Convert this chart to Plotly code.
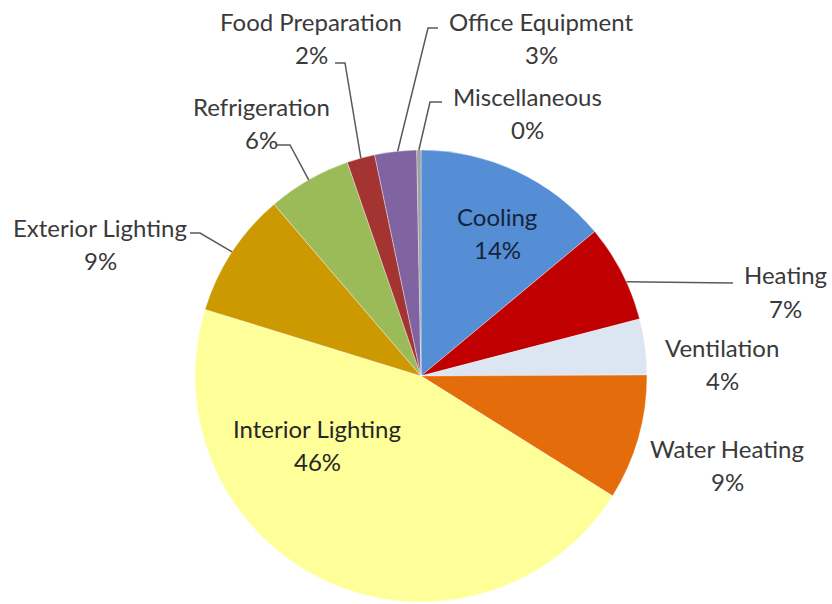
import math
import plotly.graph_objects as go

# Commercial building energy end-use shares, clockwise from 12 o'clock
categories = ["Cooling", "Heating", "Ventilation", "Water Heating", "Interior Lighting",
              "Exterior Lighting", "Refrigeration", "Food Preparation", "Office Equipment",
              "Miscellaneous"]
shares = [14, 7, 4, 9, 46, 9, 6, 2, 3, 0.3]
colors = ["#558ED5", "#C00000", "#DCE6F2", "#E46C0A", "#FFFF99",
          "#CC9900", "#9BBB59", "#A33431", "#8064A2", "#A0A0A0"]

W, H = 832, 604
CX, CY, R = 421, 376, 226  # pie centre and radius in pixels

# label placement (pixel centre of the name line) and text colour
label_pos = {
    "Cooling": (497, 216), "Heating": (785, 275), "Ventilation": (722, 348),
    "Water Heating": (727, 448), "Interior Lighting": (317, 428),
    "Exterior Lighting": (100, 228), "Refrigeration": (261, 106),
    "Food Preparation": (311, 22), "Office Equipment": (541, 22),
    "Miscellaneous": (527, 96),
}
label_color = {"Cooling": "#14243A", "Interior Lighting": "#262626"}
LINE_GAP = 33
FONT_SIZE = 24

# leader lines: label-side points, then where on the slice (fraction) they land
leaders = {
    "Food Preparation": ([(335, 63), (345, 63)], 0.5),
    "Office Equipment": ([(438, 28), (428, 28)], 0.55),
    "Miscellaneous": ([(442, 102), (430, 102)], 0.5),
    "Refrigeration": ([(277, 145), (290, 145)], 0.5),
    "Exterior Lighting": ([(190, 233), (200, 233)], 0.5),
    "Heating": ([(733, 283)], 0.6),
}


def px(x):
    return x / W


def py(y):
    return 1 - y / H


total = sum(shares)
starts = []
acc = 0.0
for v in shares:
    starts.append(acc)
    acc += v

fig = go.Figure(go.Pie(
    labels=categories, values=shares, sort=False, direction="clockwise", rotation=0,
    marker=dict(colors=colors, line=dict(color="rgba(255,255,255,0.6)", width=0.6)),
    textinfo="none", hoverinfo="label+percent", showlegend=False,
    domain=dict(x=[px(CX - R), px(CX + R)], y=[py(CY + R), py(CY - R)]),
))

annotations = []
shapes = []
for name, v, s in zip(categories, shares, starts):
    x, y = label_pos[name]
    col = label_color.get(name, "#3A3A3A")
    pct = f"{round(v / total * 100)}%"
    for txt, yy in ((name, y), (pct, y + LINE_GAP)):
        annotations.append(dict(
            text=txt, x=px(x), y=py(yy), xref="paper", yref="paper",
            xanchor="center", yanchor="middle", showarrow=False,
            font=dict(family="Lato", size=FONT_SIZE, color=col)))
    if name in leaders:
        pts, frac = leaders[name]
        theta = 2 * math.pi * (s + frac * v) / total
        ax = CX + R * math.sin(theta)
        ay = CY - R * math.cos(theta)
        allpts = pts + [(ax, ay)]
        path = "M " + " L ".join(f"{px(a):.5f},{py(b):.5f}" for a, b in allpts)
        shapes.append(dict(type="path", path=path, xref="paper", yref="paper",
                           line=dict(color="#595959", width=1.5)))

fig.update_layout(
    width=W, height=H, autosize=False,
    margin=dict(l=0, r=0, t=0, b=0),
    paper_bgcolor="white", plot_bgcolor="white",
    annotations=annotations, shapes=shapes,
)

fig.write_html("out.html")
